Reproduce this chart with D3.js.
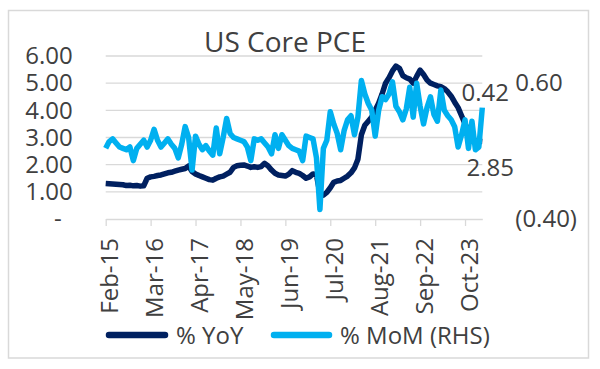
<!DOCTYPE html>
<html lang="en">
	<head>
		<meta charset="UTF-8" />
		<title>US Core PCE</title>
		<style>
			html,
			body {
				margin: 0;
				padding: 0;
				background-color: #ffffff;
				font-family: 'Open Sans', sans-serif;
			}

			#chart text {
				fill: #404040;
			}
		</style>
	</head>
	<body>
		<svg id="chart" width="600" height="369"></svg>

		<script src="https://cdn.jsdelivr.net/npm/d3@7"></script>

		<script>
			// Feb-15 .. Mar-24, monthly
			const months = d3.timeMonth.range(new Date(2015, 1, 1), new Date(2024, 3, 1));
			const monthLabels = months.map(d3.timeFormat('%b-%y'));

			const tickLabels = ['Feb-15', 'Mar-16', 'Apr-17', 'May-18', 'Jun-19', 'Jul-20', 'Aug-21', 'Sep-22', 'Oct-23'];
			const leftTicks = [0, 1, 2, 3, 4, 5, 6];
			const rightTicks = [-0.4, 0.6];

			// % YoY (left axis)
			const yoy = [
				1.31, 1.30, 1.29, 1.28, 1.27, 1.26, 1.23, 1.24, 1.22, 1.23, 1.21, 1.22,
				1.50, 1.55, 1.57, 1.60, 1.62, 1.66, 1.70, 1.72, 1.76, 1.80, 1.83, 1.86,
				1.95, 1.75, 1.66, 1.60, 1.55, 1.50, 1.45, 1.43, 1.50, 1.55, 1.58, 1.65,
				1.72, 1.90, 1.96, 1.98, 1.99, 1.95, 1.90, 1.92, 1.90, 1.93, 2.05, 1.95,
				1.80, 1.68, 1.62, 1.60, 1.58, 1.65, 1.78, 1.72, 1.68, 1.60, 1.50, 1.55,
				1.66, 1.62, 0.95, 0.88, 0.98, 1.15, 1.35, 1.40, 1.42, 1.50, 1.58, 1.70,
				1.88, 2.20, 3.10, 3.45, 3.60, 3.75, 4.00, 4.26, 4.60, 5.00, 5.20, 5.45,
				5.63, 5.55, 5.28, 5.20, 5.15, 5.00, 5.25, 5.48, 5.32, 5.12, 5.00, 4.95,
				4.90, 4.87, 4.80, 4.68, 4.52, 4.30, 4.10, 3.80, 3.50, 3.25, 2.92, 2.88,
				2.86, 2.85
			];

			// % MoM (right axis)
			const mom = [
				0.12, 0.17, 0.19, 0.16, 0.13, 0.12, 0.11, 0.13, 0.03, 0.12, 0.15, 0.18,
				0.13, 0.18, 0.26, 0.18, 0.13, 0.16, 0.19, 0.15, 0.12, 0.05, 0.15, 0.28,
				0.20, -0.04, 0.21, 0.15, 0.11, 0.14, 0.10, 0.07, 0.27, 0.08, 0.20, 0.34,
				0.23, 0.20, 0.19, 0.18, 0.17, 0.13, 0.03, 0.19, 0.18, 0.19, 0.16, 0.13,
				0.08, 0.22, 0.12, 0.22, 0.18, 0.14, 0.12, 0.11, 0.10, 0.03, 0.21, 0.20,
				0.19, 0.05, -0.33, 0.12, 0.18, 0.39, 0.30, 0.23, 0.11, 0.25, 0.33, 0.36,
				0.22, 0.35, 0.62, 0.52, 0.45, 0.40, 0.21, 0.40, 0.50, 0.48, 0.52, 0.61,
				0.43, 0.39, 0.33, 0.41, 0.57, 0.35, 0.60, 0.43, 0.30, 0.42, 0.50, 0.37,
				0.32, 0.55, 0.40, 0.36, 0.33, 0.28, 0.13, 0.22, 0.33, 0.12, 0.32, 0.11,
				0.13, 0.42
			];

			const DARK = '#002060';
			const LIGHT = '#00b0f0';
			const GRID = '#d9d9d9';

			const svg = d3.select('#chart');

			// outer frame
			svg.append('rect')
				.attr('x', 8.5)
				.attr('y', 10.5)
				.attr('width', 580)
				.attr('height', 347.5)
				.attr('fill', 'none')
				.attr('stroke', GRID)
				.attr('stroke-width', 1.5);

			const x = d3.scalePoint().domain(monthLabels).range([105.7, 482.3]);
			const yL = d3.scaleLinear().domain([0, 6]).range([219, 56]);
			const yR = d3.scaleLinear().domain([-0.4, 0.8]).range([219, 56]);

			// gridlines
			svg.append('g')
				.selectAll('line')
				.data(leftTicks.filter((d) => d > 0))
				.join('line')
				.attr('x1', x.range()[0])
				.attr('x2', x.range()[1])
				.attr('y1', (d) => yL(d))
				.attr('y2', (d) => yL(d))
				.attr('stroke', GRID)
				.attr('stroke-width', 1.3);

			// x axis
			const xAxis = svg.append('g')
				.attr('transform', `translate(0,${yL(0)})`)
				.call(d3.axisBottom(x).tickValues(tickLabels).tickSize(7).tickSizeOuter(0).tickFormat((d) => d));
			xAxis.select('.domain').attr('stroke', GRID).attr('stroke-width', 1.3);
			xAxis.selectAll('.tick line').attr('stroke', GRID).attr('stroke-width', 1.3);
			xAxis.selectAll('.tick text')
				.attr('font-family', 'Open Sans')
				.attr('font-size', 24)
				.attr('text-anchor', 'end')
				.attr('dy', null)
				.attr('y', null)
				.attr('transform', 'translate(12,19) rotate(-90)');

			// left axis
			const leftAxis = svg.append('g')
				.attr('transform', `translate(${x.range()[0]},0)`)
				.call(d3.axisLeft(yL).tickValues(leftTicks).tickSize(0).tickPadding(33)
					.tickFormat((d) => (d === 0 ? '-' : d.toFixed(2))));
			leftAxis.select('.domain').remove();
			leftAxis.selectAll('.tick text')
				.attr('font-family', 'Open Sans')
				.attr('font-size', 24)
				.attr('x', (d) => (d === 0 ? -44 : -33));

			// right axis
			const rightAxis = svg.append('g')
				.attr('transform', `translate(${x.range()[1]},0)`)
				.call(d3.axisRight(yR).tickValues(rightTicks).tickSize(0).tickPadding(33)
					.tickFormat((d) => (d < 0 ? `(${Math.abs(d).toFixed(2)})` : d.toFixed(2))));
			rightAxis.select('.domain').remove();
			rightAxis.selectAll('.tick text').attr('font-family', 'Open Sans').attr('font-size', 24);

			// series
			const lineL = d3.line()
				.x((d, i) => x(monthLabels[i]))
				.y((d) => yL(d));
			const lineR = d3.line()
				.x((d, i) => x(monthLabels[i]))
				.y((d) => yR(d));

			svg.append('path')
				.datum(yoy)
				.attr('d', lineL)
				.attr('fill', 'none')
				.attr('stroke', DARK)
				.attr('stroke-width', 5.5)
				.attr('stroke-linejoin', 'round');

			svg.append('path')
				.datum(mom)
				.attr('d', lineR)
				.attr('fill', 'none')
				.attr('stroke', LIGHT)
				.attr('stroke-width', 5.5)
				.attr('stroke-linejoin', 'round');

			// data labels on last points
			const last = monthLabels.length - 1;
			svg.append('text')
				.attr('x', x(monthLabels[last]) + 3)
				.attr('y', yR(mom[last]) - 7)
				.attr('text-anchor', 'middle')
				.attr('font-size', 24)
				.text(mom[last].toFixed(2));
			svg.append('text')
				.attr('x', x(monthLabels[last]) + 8)
				.attr('y', yL(yoy[last]) + 34)
				.attr('text-anchor', 'middle')
				.attr('font-size', 24)
				.text(yoy[last].toFixed(2));

			// title
			svg.append('text')
				.attr('x', 285)
				.attr('y', 52)
				.attr('text-anchor', 'middle')
				.attr('font-size', 28)
				.text('US Core PCE');

			// legend
			const legend = [
				{ name: '% YoY', color: DARK, x1: 109, x2: 165, tx: 176 },
				{ name: '% MoM (RHS)', color: LIGHT, x1: 274, x2: 329, tx: 340 }
			];
			const lg = svg.append('g').selectAll('g').data(legend).join('g');
			lg.append('line')
				.attr('x1', (d) => d.x1)
				.attr('x2', (d) => d.x2)
				.attr('y1', 335)
				.attr('y2', 335)
				.attr('stroke', (d) => d.color)
				.attr('stroke-width', 6.5)
				.attr('stroke-linecap', 'round');
			lg.append('text')
				.attr('x', (d) => d.tx)
				.attr('y', 343.5)
				.attr('font-size', 24)
				.text((d) => d.name);
		</script>
	</body>
</html>
